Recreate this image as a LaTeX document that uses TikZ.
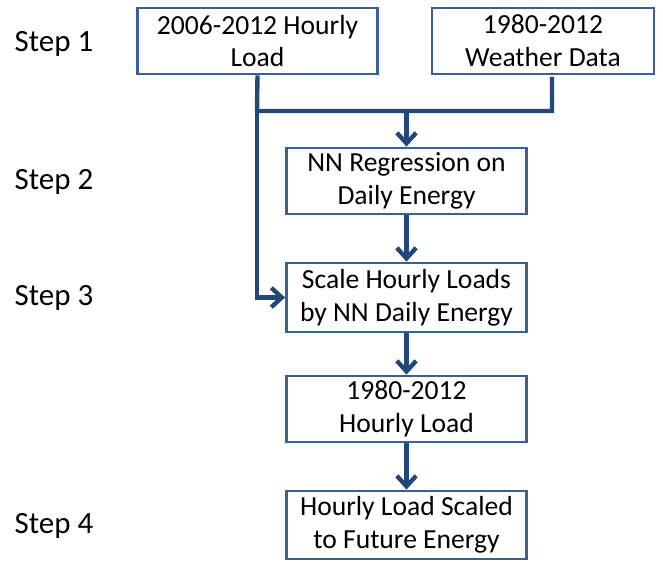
\documentclass[tikz,border=0pt]{standalone}
\usepackage{fontspec}
\setmainfont{Carlito}
\usetikzlibrary{positioning, arrows.meta}

\definecolor{boxline}{HTML}{3B6092}
\definecolor{linkline}{HTML}{24477A}

\begin{document}
\begin{tikzpicture}[x=0.02cm, y=-0.02cm, >={Straight Barb[length=6pt,width=11pt]},
  stepbox/.style={draw=boxline, line width=1.6pt, minimum width=4.8cm,
    minimum height=1.32cm, align=center, inner sep=1pt,
    font=\fontsize{15.7}{18.6}\selectfont},
  steplabel/.style={font=\fontsize{17.6}{20}\selectfont},
  link/.style={draw=linkline, line width=2.5pt}]

\useasboundingbox (0,0) rectangle (663,563);

% --- Step labels ---
\node[steplabel] (lab1) at (54, 44) {Step 1};
\node[steplabel] (lab2) at (54, 182) {Step 2};
\node[steplabel] (lab3) at (54, 298) {Step 3};
\node[steplabel] (lab4) at (54, 526) {Step 4};

% --- Inputs ---
\node[stepbox] (hist) at (257.5, 41) {2006-2012 Hourly\\Load};
\node[stepbox, minimum width=4.44cm] (wx) at (543, 41) {1980-2012\\Weather Data};

% --- Processing chain ---
\node[stepbox] (nn) at (406.5, 181) {NN Regression on\\Daily Energy};
\node[stepbox, minimum height=1.38cm] (scale) at (406.5, 297.5) {Scale Hourly Loads\\by NN Daily Energy};
\node[stepbox] (hourly) at (406.5, 409) {1980-2012\\Hourly Load};
\node[stepbox, minimum height=1.36cm] (future) at (406.5, 525) {Hourly Load Scaled\\to Future Energy};

% Junction points
\coordinate (jl) at (257, 111);
\coordinate (jr) at (552, 111);
\coordinate (wxs) at (552, 77);

% Connectors
\draw[link] (hist.south) -- (jl) -- (jr) -- (wxs);
\draw[link, ->] (jl -| nn.north) -- (nn.north);
\draw[link, ->] (jl) |- (scale.west);
\draw[link, ->] (nn) -- (scale);
\draw[link, ->] (scale) -- (hourly);
\draw[link, ->] (hourly) -- (future);

\end{tikzpicture}
\end{document}
